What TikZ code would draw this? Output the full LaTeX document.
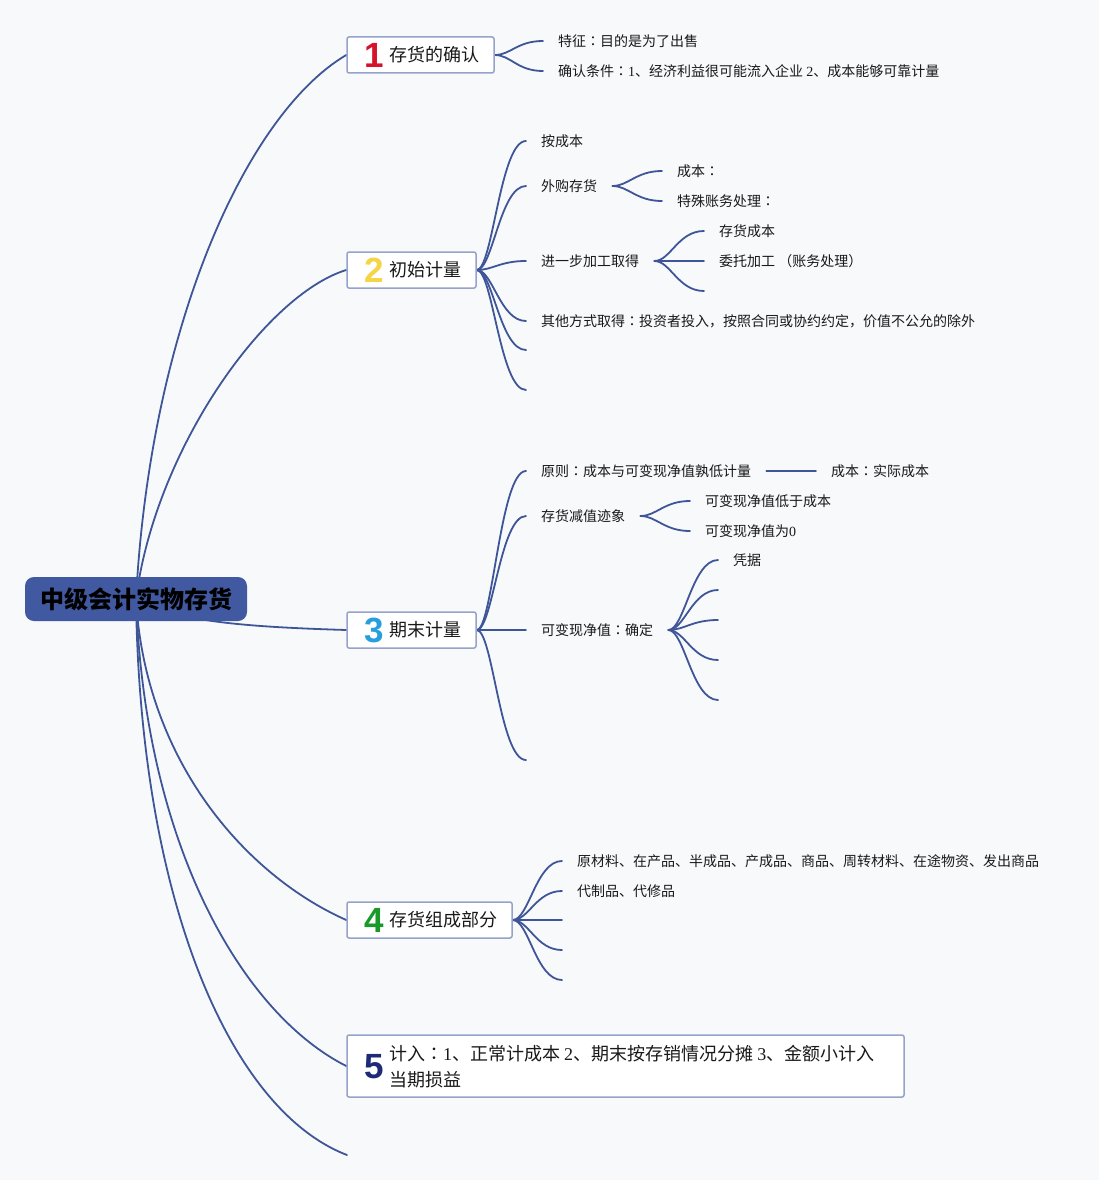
\documentclass[tikz,border=0pt]{standalone}
\usepackage{fontspec}
\setmainfont{Noto Sans CJK SC}
\newfontfamily\serifdig{Liberation Serif}
\newfontfamily\numfnt{Liberation Sans}
\newfontfamily\tcfont{Noto Sans CJK TC}
\usetikzlibrary{calc}
\newcommand\sd[1]{{\serifdig #1}}
\newcommand\cl{{\tcfont ：}}
\definecolor{bgc}{RGB}{248,249,251}
\definecolor{linec}{RGB}{62,86,152}
\definecolor{boxc}{RGB}{150,162,202}
\definecolor{rootc}{RGB}{64,89,160}
\definecolor{txtc}{RGB}{25,25,25}
\definecolor{nred}{RGB}{214,18,44}
\definecolor{nyel}{RGB}{245,212,70}
\definecolor{nblue}{RGB}{40,158,220}
\definecolor{ngreen}{RGB}{26,152,42}
\definecolor{nnavy}{RGB}{30,42,120}
\pgfdeclarelayer{bg}
\pgfdeclarelayer{edges}
\pgfsetlayers{bg,edges,main}
\tikzset{
  conn/.style={draw=linec,line width=1.8pt,line cap=round},
  mbox/.style={draw=boxc,fill=white,line width=1.5pt,rounded corners=2pt,inner sep=0pt},
  numtxt/.style={font=\numfnt\bfseries\fontsize{35}{35}\selectfont,inner sep=0pt},
  btxt/.style={font=\fontsize{18}{26}\selectfont,text=txtc,inner sep=0pt,anchor=west},
  leaf/.style={font=\fontsize{14}{17}\selectfont,text=txtc,inner xsep=15pt,inner ysep=2pt,anchor=west},
  rootbox/.style={fill=rootc,rounded corners=9pt,minimum width=222pt,minimum height=44pt,inner sep=0pt,
    font=\bfseries\fontsize{24}{26}\selectfont,text=black}
}
\newcommand\kid[2]{\draw[conn] (#1) .. controls ($(#1)+(16,0)$) and ($(#2)+(-26,0)$) .. (#2);}
\begin{document}
\begin{tikzpicture}[x=1pt,y=-1pt]
\begin{pgfonlayer}{bg}
\fill[bgc] (0,0) rectangle (1099,1180);
\end{pgfonlayer}
\useasboundingbox (0,0) rectangle (1099,1180);

% root
\node[rootbox] (root) at (136,599) {中级会计实物存货};

% main boxes
\node[mbox,minimum width=147pt,minimum height=36pt] (b1) at (420.5,55) {};
\node[numtxt,text=nred] (n1) at (374,55) {1};
\node[btxt] (t1) at (389,55) {存货的确认};

\node[mbox,minimum width=129pt,minimum height=36pt] (b2) at (411.5,270) {};
\node[numtxt,text=nyel] (n2) at (374,270) {2};
\node[btxt] (t2) at (389,270) {初始计量};

\node[mbox,minimum width=129pt,minimum height=36pt] (b3) at (411.5,630) {};
\node[numtxt,text=nblue] (n3) at (374,630) {3};
\node[btxt] (t3) at (389,630) {期末计量};

\node[mbox,minimum width=165pt,minimum height=36pt] (b4) at (429.5,920) {};
\node[numtxt,text=ngreen] (n4) at (374,920) {4};
\node[btxt] (t4) at (389,920) {存货组成部分};

\node[mbox,minimum width=557pt,minimum height=62pt] (b5) at (625.5,1066) {};
\node[numtxt,text=nnavy] (n5) at (374,1067) {5};
\node[btxt,align=left] (t5) at (389,1067) {计入\cl\sd{1}、正常计成本 \sd{2}、期末按存销情况分摊 \sd{3}、金额小计入\\当期损益};

\coordinate (e6) at (347,1155);

% box 1 leaves
\node[leaf] (l11) at (543,41) {特征\cl 目的是为了出售};
\node[leaf] (l12) at (543,71) {确认条件\cl\sd{1}、经济利益很可能流入企业 \sd{2}、成本能够可靠计量};

% box 2 leaves
\node[leaf] (l21) at (526,141) {按成本};
\node[leaf] (l22) at (526,186) {外购存货};
\node[leaf] (l221) at (662,171) {成本\cl};
\node[leaf] (l222) at (662,201) {特殊账务处理\cl};
\node[leaf] (l23) at (526,261) {进一步加工取得};
\node[leaf] (l231) at (704,231) {存货成本};
\node[leaf] (l232) at (704,261) {委托加工 （账务处理）};
\coordinate (l233) at (704,291);
\node[leaf] (l24) at (526,321) {其他方式取得\cl 投资者投入，按照合同或协约约定，价值不公允的除外};
\coordinate (l25) at (526,350);
\coordinate (l26) at (526,390);

% box 3 leaves
\node[leaf] (l31) at (526,471) {原则\cl 成本与可变现净值孰低计量};
\node[leaf] (l311) at (816,471) {成本\cl 实际成本};
\node[leaf] (l32) at (526,516) {存货减值迹象};
\node[leaf] (l321) at (690,501) {可变现净值低于成本};
\node[leaf] (l322) at (690,531) {可变现净值为\sd{0}};
\node[leaf] (l33) at (526,630) {可变现净值\cl 确定};
\node[leaf] (l331) at (718,560) {凭据};
\coordinate (l332) at (718,590);
\coordinate (l333) at (718,620);
\coordinate (l334) at (718,660);
\coordinate (l335) at (718,700);
\coordinate (l34) at (526,760);

% box 4 leaves
\node[leaf] (l41) at (562,861) {原材料、在产品、半成品、产成品、商品、周转材料、在途物资、发出商品};
\node[leaf] (l42) at (562,891) {代制品、代修品};
\coordinate (l43) at (562,920);
\coordinate (l44) at (562,950);
\coordinate (l45) at (562,980);

\begin{pgfonlayer}{edges}
% root edges
\draw[conn] (root.center) .. controls (150,330) and (245,115) .. (b1.west);
\draw[conn] (root.center) .. controls (155,450) and (265,295) .. (b2.west);
\draw[conn] (root.center) .. controls (175,622) and (250,627) .. (b3.west);
\draw[conn] (root.center) .. controls (145,760) and (245,875) .. (b4.west);
\draw[conn] (root.center) .. controls (145,850) and (245,1015) .. (b5.west);
\draw[conn] (root.center) .. controls (140,900) and (230,1110) .. (e6);
% box1
\kid{b1.east}{l11.west}
\kid{b1.east}{l12.west}
% box2
\kid{b2.east}{l21.west}
\kid{b2.east}{l22.west}
\kid{b2.east}{l23.west}
\kid{b2.east}{l24.west}
\kid{b2.east}{l25}
\kid{b2.east}{l26}
\kid{l22.east}{l221.west}
\kid{l22.east}{l222.west}
\kid{l23.east}{l231.west}
\kid{l23.east}{l232.west}
\kid{l23.east}{l233}
% box3
\kid{b3.east}{l31.west}
\kid{b3.east}{l32.west}
\kid{b3.east}{l33.west}
\kid{b3.east}{l34}
\draw[conn] (l31.east) -- (l311.west);
\kid{l32.east}{l321.west}
\kid{l32.east}{l322.west}
\kid{l33.east}{l331.west}
\kid{l33.east}{l332}
\kid{l33.east}{l333}
\kid{l33.east}{l334}
\kid{l33.east}{l335}
% box4
\kid{b4.east}{l41.west}
\kid{b4.east}{l42.west}
\kid{b4.east}{l43}
\kid{b4.east}{l44}
\kid{b4.east}{l45}
\end{pgfonlayer}
\end{tikzpicture}
\end{document}
